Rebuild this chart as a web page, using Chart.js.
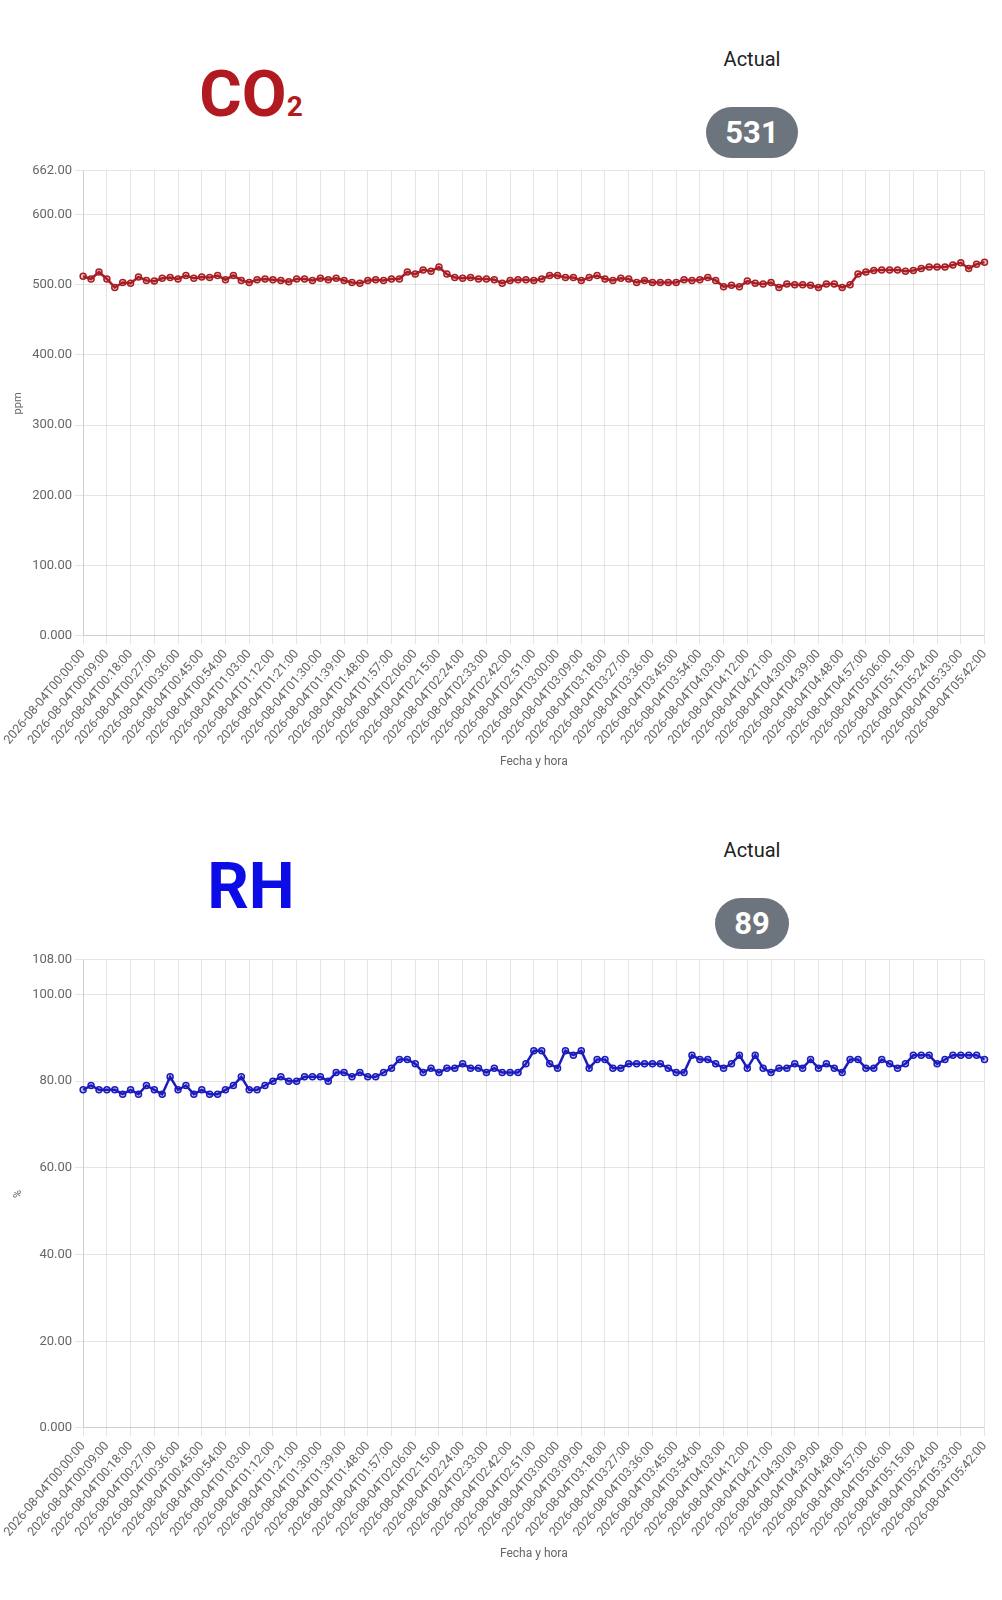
<!DOCTYPE html>
<html>
<head>
<meta charset="utf-8">
<title>CO2 / RH</title>
<script src="https://cdn.jsdelivr.net/npm/chart.js@4.4.1/dist/chart.umd.min.js"></script>
<style>
    html, body { margin: 0; padding: 0; background: #fff; }
    body { width: 1002px; height: 1600px; position: relative; font-family: Roboto, "Noto Sans", sans-serif; overflow: hidden; }
    .block { position: absolute; left: 0; width: 1002px; height: 790px; }
    .big-title { position: absolute; left: 0; width: 502px; top: 62px; text-align: center; font-weight: 700; font-size: 65px; line-height: 65px; }
    .big-title .sub { font-size: 0.43em; }
    .co2 { color: #b11a20; }
    .rh { color: #0c0ce6; }
    .actual { position: absolute; left: 502px; width: 500px; top: 47px; text-align: center; font-size: 20px; line-height: 24px; color: #222; }
    .pill-row { position: absolute; left: 502px; width: 500px; top: 107px; text-align: center; }
    .pill { display: inline-block; height: 51px; line-height: 51px; padding: 0 19px; border-radius: 26px; background: #6c757d; color: #fff; font-weight: 700; font-size: 31px; }
    .chart-box { position: absolute; left: 0; top: 160px; width: 999px; height: 613px; }
</style>
</head>
<body>

<div class="block" style="top:0px">
    <div class="big-title co2">CO<span class="sub">2</span></div>
    <div class="actual">Actual</div>
    <div class="pill-row"><span class="pill" id="co2Now"></span></div>
    <div class="chart-box"><canvas id="co2Chart"></canvas></div>
</div>

<div class="block" style="top:791px">
    <div class="big-title rh" style="top:63px">RH</div>
    <div class="actual">Actual</div>
    <div class="pill-row"><span class="pill" id="rhNow"></span></div>
    <div class="chart-box" style="top:158px; height:616px"><canvas id="rhChart"></canvas></div>
</div>

<script>
// readings every 3 minutes, 00:00 -> 05:42
var startDay = '2026-08-04';
var stepMinutes = 3;
var lastMinute = 342;

var co2Values = [
    512, 508, 518, 508, 496, 503, 502, 511, 506, 505,
    509, 510, 508, 513, 509, 511, 510, 513, 507, 513,
    506, 503, 507, 508, 507, 506, 504, 508, 508, 506,
    509, 507, 509, 506, 503, 502, 506, 507, 506, 508,
    508, 518, 515, 521, 519, 525, 515, 510, 509, 510,
    508, 508, 507, 502, 506, 507, 507, 506, 508, 513,
    513, 510, 510, 506, 510, 513, 508, 506, 509, 508,
    503, 506, 503, 503, 503, 503, 507, 506, 507, 510,
    506, 497, 499, 497, 505, 502, 501, 503, 496, 501,
    500, 500, 499, 496, 501, 501, 496, 500, 515, 518,
    520, 521, 521, 521, 519, 520, 523, 525, 525, 525,
    528, 531, 523, 529, 532
];

var rhValues = [
    78, 79, 78, 78, 78, 77, 78, 77, 79, 78,
    77, 81, 78, 79, 77, 78, 77, 77, 78, 79,
    81, 78, 78, 79, 80, 81, 80, 80, 81, 81,
    81, 80, 82, 82, 81, 82, 81, 81, 82, 83,
    85, 85, 84, 82, 83, 82, 83, 83, 84, 83,
    83, 82, 83, 82, 82, 82, 84, 87, 87, 84,
    83, 87, 86, 87, 83, 85, 85, 83, 83, 84,
    84, 84, 84, 84, 83, 82, 82, 86, 85, 85,
    84, 83, 84, 86, 83, 86, 83, 82, 83, 83,
    84, 83, 85, 83, 84, 83, 82, 85, 85, 83,
    83, 85, 84, 83, 84, 86, 86, 86, 84, 85,
    86, 86, 86, 86, 85
];

var co2Current = 531;
var rhCurrent = 89;

var co2Max = 662;
var rhMax = 108;
var co2Step = 100;
var rhStep = 20;

function pad2(n) {
    return String(n).padStart(2, '0');
}

var timeLabels = [];
for (var m = 0; m <= lastMinute; m += stepMinutes) {
    timeLabels.push(startDay + 'T' + pad2(Math.floor(m / 60)) + ':' + pad2(m % 60) + ':00');
}

document.getElementById('co2Now').textContent = co2Current;
document.getElementById('rhNow').textContent = rhCurrent;

Chart.defaults.font.family = 'Roboto, "Noto Sans", sans-serif';
Chart.defaults.font.size = 13;
Chart.defaults.color = '#666';

function buildChart(canvasId, values, unit, maxY, stepY, color, fill) {
    var ctx = document.getElementById(canvasId).getContext('2d');
    return new Chart(ctx, {
        type: 'line',
        data: {
            labels: timeLabels,
            datasets: [{
                label: unit,
                data: values,
                borderColor: color,
                backgroundColor: fill,
                pointBackgroundColor: fill,
                pointBorderColor: color,
                pointBorderWidth: 1.5,
                pointRadius: 3,
                borderWidth: 2.5,
                tension: 0,
                fill: false
            }]
        },
        options: {
            responsive: true,
            maintainAspectRatio: false,
            animation: false,
            layout: { padding: { left: 8, right: 0, top: 0, bottom: 0 } },
            plugins: {
                legend: { display: false },
                tooltip: { enabled: false }
            },
            scales: {
                y: {
                    min: 0,
                    max: maxY,
                    ticks: {
                        stepSize: stepY,
                        callback: function(value) {
                            return value === 0 ? '0.000' : value.toFixed(2);
                        }
                    },
                    title: { display: true, text: unit, font: { size: 11 } }
                },
                x: {
                    ticks: { maxRotation: 50, minRotation: 50, maxTicksLimit: 39, font: { size: 12.5 } },
                    title: { display: true, text: 'Fecha y hora', font: { size: 12 } }
                }
            }
        }
    });
}

buildChart('co2Chart', co2Values, 'ppm', co2Max, co2Step, 'rgb(168, 30, 36)', 'rgba(168, 30, 36, 0.22)');
buildChart('rhChart', rhValues, '%', rhMax, rhStep, 'rgb(28, 28, 190)', 'rgba(28, 28, 190, 0.22)');
</script>
</body>
</html>
